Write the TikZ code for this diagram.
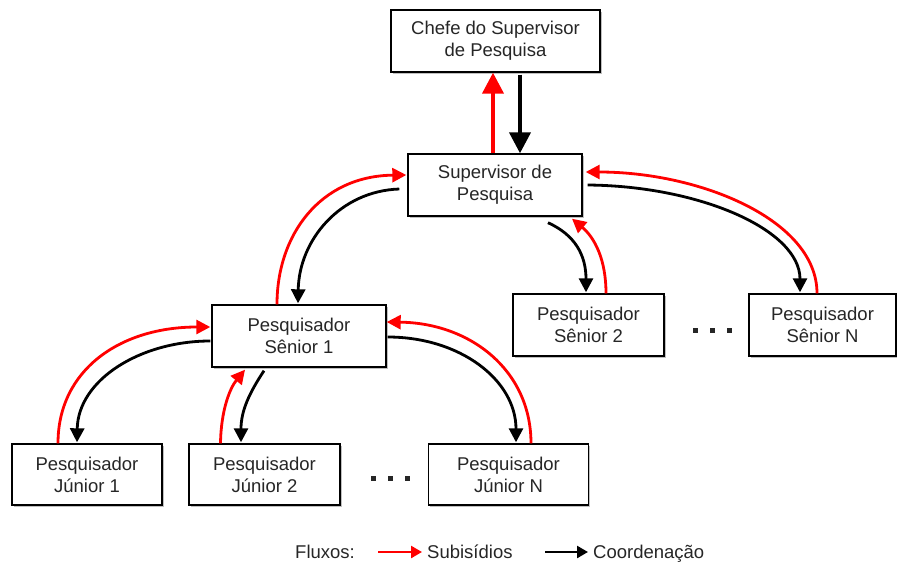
\documentclass[tikz,border=0pt]{standalone}
\usepackage{fontspec}
\setmainfont{Liberation Sans}
\usetikzlibrary{arrows.meta,calc,shadows}
\begin{document}
\begin{tikzpicture}[x=1pt,y=-1pt,
  box/.style={draw=black,line width=1.4pt,fill=white,inner sep=0pt,align=center,
    text=black!85,font=\fontsize{18.5}{22}\selectfont,
    drop shadow={shadow xshift=1.6pt,shadow yshift=-1.6pt,fill=black,opacity=.25}},
  label/.style={inner sep=0pt,text=black!85,font=\fontsize{18.5}{22}\selectfont},
  subs/.style={draw=red,line width=2.8pt,-{Triangle[length=14pt,width=14pt]}},
  coord/.style={draw=black,line width=2.8pt,-{Triangle[length=14pt,width=14pt]}},
  bigsubs/.style={draw=red,line width=4pt,-{Triangle[length=21pt,width=21pt]}},
  bigcoord/.style={draw=black,line width=4pt,-{Triangle[length=21pt,width=21pt]}},
  keysubs/.style={draw=red,line width=2.5pt,-{Triangle[length=11pt,width=12pt]}},
  keycoord/.style={draw=black,line width=2.5pt,-{Triangle[length=11pt,width=12pt]}},
  dot/.style={fill=black!85}
]
\useasboundingbox (0,0) rectangle (897,562);

% hierarchy boxes
\node[box,minimum width=209pt,minimum height=62pt] (chefe) at (495.5,41) {Chefe do Supervisor\\de Pesquisa};
\node[box,minimum width=174pt,minimum height=62pt] (sup) at (495,185) {Supervisor de\\Pesquisa};
\node[box,minimum width=174pt,minimum height=62pt] (s1) at (299,336) {Pesquisador\\Sênior 1};
\node[box,minimum width=151pt,minimum height=62pt] (s2) at (588.5,325) {Pesquisador\\Sênior 2};
\node[box,minimum width=147pt,minimum height=62pt] (sN) at (822.5,325) {Pesquisador\\Sênior N};
\node[box,minimum width=150pt,minimum height=61pt] (j1) at (87,474.5) {Pesquisador\\Júnior 1};
\node[box,minimum width=151pt,minimum height=61pt] (j2) at (264.5,474.5) {Pesquisador\\Júnior 2};
\node[box,minimum width=160pt,minimum height=61pt] (jN) at (508.5,474.5) {Pesquisador\\Júnior N};

% ellipses between boxes
\foreach \x in {695,712,729} \fill[dot] (\x-2.5,327.5) rectangle (\x+2.5,332.5);
\foreach \x in {373,390,407} \fill[dot] (\x-2.5,475.5) rectangle (\x+2.5,480.5);

% supervisor <-> chief
\draw[bigsubs] ($(sup.north)+(-2,0)$) -- ($(chefe.south)+(-2.5,0)$);
\draw[bigcoord] ($(chefe.south)+(24.5,2)$) -- ($(sup.north)+(25,0)$);

% supervisor <-> senior 1
\draw[subs] ($(s1.north)+(-22,0)$) .. controls (277,235) and (320,176) .. ($(sup.west)+(-1,-10)$);
\draw[coord] ($(sup.west)+(-8,4)$) .. controls (340,191) and (299,240) .. ($(s1.north)+(-1,-1)$);

% supervisor <-> senior N
\draw[coord] ($(sup.east)+(5,0)$) .. controls (700,186) and (800,230) .. ($(sN.north)+(-22.5,-1)$);
\draw[subs] ($(sN.north)+(-5.5,0)$) .. controls (817,220) and (700,172) .. ($(sup.east)+(3,-13)$);

% supervisor <-> senior 2
\draw[coord] ($(sup.south)+(53,6)$) .. controls (575,235) and (586,255) .. ($(s2.north)+(-2.5,-1)$);
\draw[subs] ($(s2.north)+(17.5,0)$) .. controls (606,260) and (595,238) .. ($(sup.south)+(77,2)$);

% senior 1 <-> junior 1
\draw[subs] ($(j1.north)+(-29,0)$) .. controls (58,370) and (120,327) .. ($(s1.west)+(-1,-9)$);
\draw[coord] ($(s1.west)+(-1,5)$) .. controls (140,341) and (78,380) .. ($(j1.north)+(-10,-1)$);

% senior 1 <-> junior 2
\draw[subs] ($(j2.north)+(-44,0)$) .. controls (221,410) and (230,388) .. ($(s1.south)+(-54,2)$);
\draw[coord] ($(s1.south)+(-35,3)$) .. controls (250,392) and (241,410) .. ($(j2.north)+(-23.5,-1)$);

% senior 1 <-> junior N
\draw[coord] ($(s1.east)+(1,1)$) .. controls (460,337) and (516,380) .. ($(jN.north)+(7.5,-1)$);
\draw[subs] ($(jN.north)+(22.5,0)$) .. controls (531,370) and (470,323) .. ($(s1.east)+(0,-14)$);

% legend
\node[label,anchor=base west] (kf) at (295,558) {Fluxos:};
\coordinate (ks0) at (378,552);
\node[label,anchor=base west] (ks) at (427,558) {Subisídios};
\draw[keysubs] (ks0) -- ($(ks.west |- ks0)+(-5,0)$);
\coordinate (kc0) at (545,552);
\node[label,anchor=base west] (kc) at (593,558) {Coordenação};
\draw[keycoord] (kc0) -- ($(kc.west |- kc0)+(-5,0)$);
\end{tikzpicture}
\end{document}
